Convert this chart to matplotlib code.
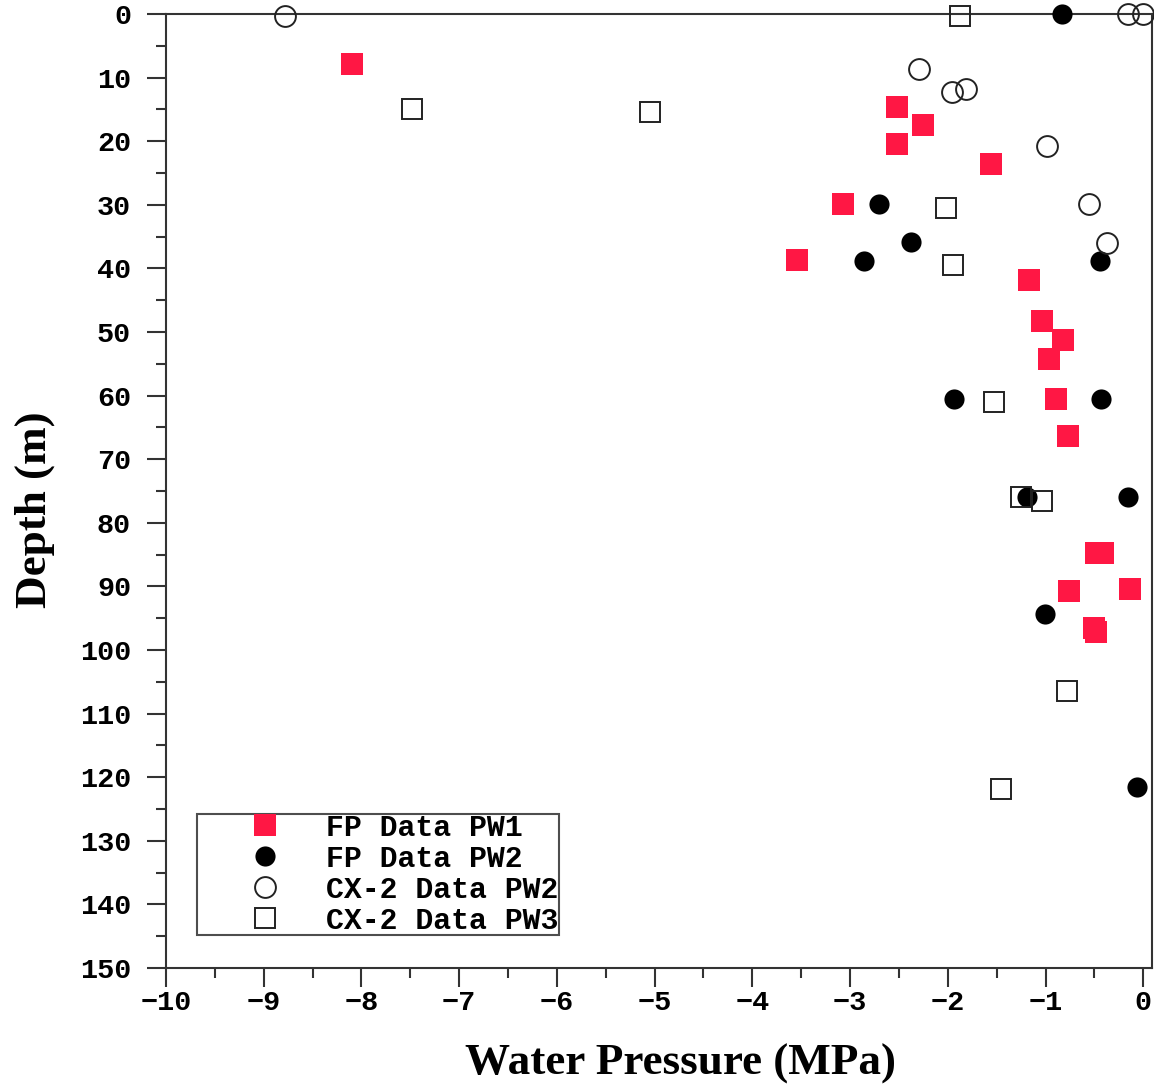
import matplotlib
matplotlib.use("Agg")
import matplotlib.pyplot as plt
from matplotlib.ticker import MultipleLocator

# FP Data PW1 (red squares)
fp1_x = [-8.10, -2.52, -2.25, -2.52, -1.56, -3.07, -3.54, -1.17, -1.04, -0.82,
         -0.96, -0.89, -0.77, -0.48, -0.41, -0.76, -0.14, -0.50, -0.48]
fp1_y = [7.9, 14.6, 17.5, 20.5, 23.6, 29.9, 38.7, 41.9, 48.2, 51.3,
         54.3, 60.6, 66.4, 84.8, 84.8, 90.7, 90.4, 96.5, 97.2]

# FP Data PW2 (black dots)
fp2_x = [-0.83, -2.70, -2.38, -2.86, -0.44, -1.94, -0.43, -1.19, -0.16, -1.01, -0.06]
fp2_y = [0.0, 29.9, 35.9, 38.9, 38.9, 60.6, 60.6, 76.0, 76.0, 94.3, 121.5]

# CX-2 Data PW2 (open circles)
cx2_x = [-8.78, -0.16, 0.0, -2.29, -1.96, -1.81, -0.98, -0.55, -0.37]
cx2_y = [0.3, 0.0, 0.0, 8.7, 12.3, 11.8, 20.8, 29.9, 36.0]

# CX-2 Data PW3 (open squares)
cx3_x = [-1.88, -7.48, -5.05, -2.02, -1.95, -1.53, -1.25, -1.04, -0.78, -1.46]
cx3_y = [0.3, 15.0, 15.4, 30.5, 39.5, 61.0, 75.9, 76.6, 106.4, 121.8]

tick_font = {'family': 'Liberation Mono', 'weight': 'bold', 'size': 20.5}
label_font = {'family': 'Liberation Serif', 'weight': 'bold', 'size': 32.5}

fig = plt.figure(figsize=(11.54, 10.92), dpi=100)
ax = fig.add_axes([0.1438, 0.1136, 0.8545, 0.8736])

ax.plot(fp1_x, fp1_y, 's', ms=15.5, color='#ff1744', mec='#ff1744', mew=0,
        label='FP Data PW1', clip_on=False, zorder=3)
ax.plot(fp2_x, fp2_y, 'o', ms=14.5, color='black', mec='black', mew=0,
        label='FP Data PW2', clip_on=False, zorder=3)
ax.plot(cx2_x, cx2_y, 'o', ms=15, mfc='none', mec='#222222', mew=1.4,
        label='CX-2 Data PW2', clip_on=False, zorder=3)
ax.plot(cx3_x, cx3_y, 's', ms=15, mfc='none', mec='#222222', mew=1.4,
        label='CX-2 Data PW3', clip_on=False, zorder=3)

ax.set_xlim(-10, 0.09)
ax.set_ylim(150, 0)

ax.xaxis.set_major_locator(MultipleLocator(1))
ax.xaxis.set_minor_locator(MultipleLocator(0.5))
ax.yaxis.set_major_locator(MultipleLocator(10))
ax.yaxis.set_minor_locator(MultipleLocator(5))

ax.tick_params(which='major', direction='out', length=14, width=1.5, color='#333333')
ax.tick_params(which='minor', direction='out', length=7, width=1.5, color='#333333')
ax.tick_params(axis='y', which='major', pad=11)
ax.tick_params(axis='x', which='major', pad=2)

ax.set_xticks(range(-10, 1))
ax.set_xticklabels(['\u221210', '\u22129', '\u22128', '\u22127', '\u22126', '\u22125',
                    '\u22124', '\u22123', '\u22122', '\u22121', '0'], fontdict=tick_font)
ax.set_yticks(range(0, 151, 10))
ax.set_yticklabels([str(v) for v in range(0, 151, 10)], fontdict=tick_font)

for s in ax.spines.values():
    s.set_linewidth(1.5)
    s.set_color('#333333')

ax.set_xlabel('Water Pressure (MPa)', fontdict=label_font)
ax.set_ylabel('Depth (m)', fontdict=label_font)
ax.xaxis.set_label_coords(0.522, -0.079)
ax.yaxis.set_label_coords(-0.113, 0.48)

leg = ax.legend(loc='lower left', bbox_to_anchor=(0.031, 0.035),
                prop={'family': 'Liberation Mono', 'weight': 'bold', 'size': 21.5},
                frameon=True, fancybox=False, borderpad=0.0, labelspacing=0.1,
                handlelength=4.6, handletextpad=-0.25, borderaxespad=0, numpoints=1)
leg.get_frame().set_edgecolor('#222222')
leg.get_frame().set_linewidth(1.5)

fig.savefig('out.png', dpi=100)
